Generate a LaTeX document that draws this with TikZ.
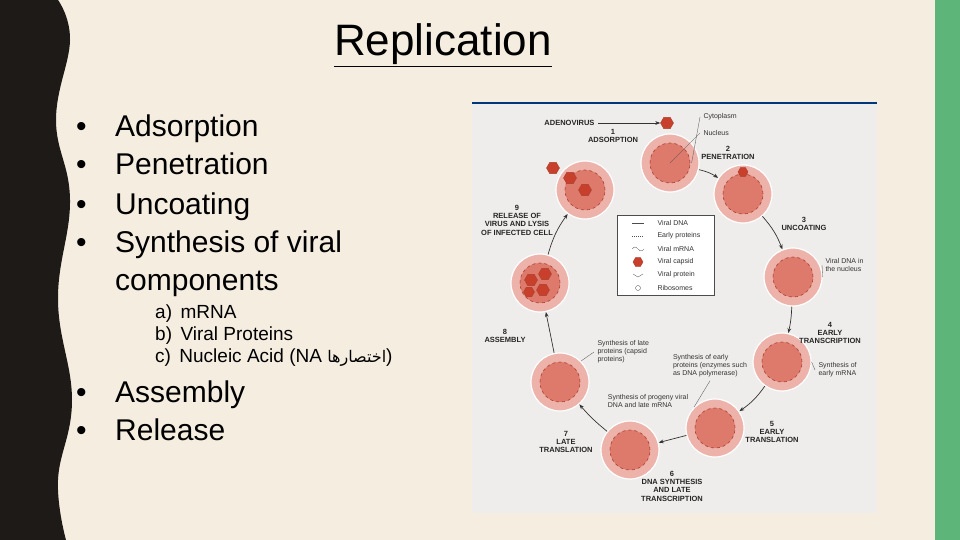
\documentclass[tikz,border=0pt]{standalone}
\usepackage{fontspec}
\setmainfont{Liberation Sans}
\newfontfamily\arabicfont[Script=Arabic]{DejaVu Sans}
\TeXXeTstate=1
\usetikzlibrary{shapes.geometric,arrows.meta}
\definecolor{cream}{HTML}{F5EEE0}
\definecolor{band}{HTML}{1E1A18}
\definecolor{grn}{HTML}{5DB57A}
\definecolor{panel}{HTML}{EFEDEB}
\definecolor{pinkc}{HTML}{EDB2AA}
\definecolor{nuc}{HTML}{DD7A6C}
\definecolor{nucd}{HTML}{A8402F}
\definecolor{vir}{HTML}{C8402C}
\tikzset{
  cell/.style={circle,minimum size=58pt,inner sep=0,fill=pinkc,draw=white,line width=1.2pt,
    path picture={\fill[nuc,draw=nucd,line width=0.6pt,dashed] (path picture bounding box.center) circle (20pt);}},
  virus/.style={regular polygon,regular polygon sides=6,minimum size=13pt,inner sep=0,fill=vir,draw=nucd,line width=0.4pt},
  lab/.style={font=\fontsize{7.5}{8.3}\selectfont\bfseries,align=center,text=black!85},
  sml/.style={font=\fontsize{7}{8}\selectfont,align=left,text=black!80},
  cyc/.style={-{Stealth[length=5pt]},line width=0.7pt,black!80},
  lead/.style={line width=0.3pt,black!70},
  bul/.style={font=\fontsize{30}{34}\selectfont},
}
\begin{document}
\begin{tikzpicture}[x=1pt,y=-1pt]
\useasboundingbox (0,0) rectangle (960,540);
\fill[cream] (0,0) rectangle (960,540);
\fill[band] (0,0) -- plot[smooth,tension=0.7] coordinates {(58,0) (70,40) (56,120) (70,200) (58,300) (72,400) (58,480) (66,540)} -- (0,540) -- cycle;
\fill[grn] (935,0) rectangle (960,540);
% title
\node (title) at (443,45) {\fontsize{44}{48}\selectfont\underline{Replication}};
% bullets
\begin{scope}[every node/.style={anchor=base west,inner sep=0}]
\foreach \y/\t [count=\i] in {137/Adsorption,175/Penetration,214/Uncoating,252/Synthesis of viral}{
  \node (b\i) at (115,\y) {\fontsize{30}{34}\selectfont \t};
  \node[bul] (d\i) at (76,\y) {\textbullet};}
\node (b5) at (115,290) {\fontsize{30}{34}\selectfont components};
\node (s1) at (155,318) {\fontsize{19}{22}\selectfont a)\ \,mRNA};
\node (s2) at (155,340) {\fontsize{19}{22}\selectfont b)\ \,Viral Proteins};
\node (s3) at (155,362) {\fontsize{19}{22}\selectfont c)\ \,Nucleic Acid (NA {\arabicfont\fontsize{16}{20}\selectfont\beginR اختصارها\endR})};
\node (b6) at (115,402) {\fontsize{30}{34}\selectfont Assembly};
\node[bul] (d6) at (76,402) {\textbullet};
\node (b7) at (115,440) {\fontsize{30}{34}\selectfont Release};
\node[bul] (d7) at (76,440) {\textbullet};
\end{scope}
% figure panel
\fill[panel] (472,103) rectangle (877,513);
\draw[blue!40!teal!70!black,line width=1.2pt] (472,103) -- (877,103);
% cells
\node[cell] (c1) at (670,163) {};
\node[cell] (c2) at (743,194) {};
\node[cell] (c3) at (793,277) {};
\node[cell] (c4) at (782,362) {};
\node[cell] (c5) at (715,428) {};
\node[cell] (c6) at (630,450) {};
\node[cell] (c7) at (560,382) {};
\node[cell] (c8) at (540,283) {};
\node[cell] (c9) at (585,190) {};
% viruses
\node[virus] (v0) at (667,123) {};
\node[virus,minimum size=10pt] (vp) at (743,172) {};
\node[virus] (v1) at (553,168) {};
\node[virus] (v2) at (570,178) {};
\node[virus] (v3) at (585,190) {};
\node[virus] (a1) at (531,280) {};
\node[virus] (a2) at (545,274) {};
\node[virus] (a3) at (543,290) {};
\node[virus,minimum size=11pt] (a4) at (529,292) {};
% cycle arrows
\draw[cyc] (c1) to[bend left=10] (c2);
\draw[cyc] (c2) to[bend left=10] (c3);
\draw[cyc] (c3) to[bend left=5] (c4);
\draw[cyc] (c4) to[bend left=10] (c5);
\draw[cyc] (c5) to (c6);
\draw[cyc] (c6) to[bend left=5] (c7);
\draw[cyc] (c7) to (c8);
\draw[cyc] (c8) to[bend left=10] (c9);
% labels
\node[lab,anchor=east] (adv) at (598,123) {ADENOVIRUS};
\draw[cyc] (adv) -- (v0);
\node[lab] (l1) at (613,136) {1\\ADSORPTION};
\node[sml,anchor=west] (cyt) at (700,117) {Cytoplasm};
\node[sml,anchor=west] (nucl) at (700,133) {Nucleus};
\draw[lead] (cyt.west) -- ([shift={(-8,0)}]c1.east);
\draw[lead] (nucl.west) -- (c1.center);
\node[lab] (l2) at (728,153) {2\\PENETRATION};
\node[lab] (l3) at (804,224) {3\\UNCOATING};
\node[sml,anchor=west] (vdn) at (822,265) {Viral DNA in\\the nucleus};
\draw[lead] (vdn.west) -- (c3.east);
\node[lab] (l4) at (830,333) {4\\EARLY\\TRANSCRIPTION};
\node[sml,anchor=west] (sem) at (815,370) {Synthesis of\\early mRNA};
\draw[lead] (sem.west) -- (c4.east);
\node[lab] (l5) at (772,432) {5\\EARLY\\TRANSLATION};
\node[lab] (l6) at (672,486) {6\\DNA SYNTHESIS\\AND LATE\\TRANSCRIPTION};
\node[lab] (l7) at (566,442) {7\\LATE\\TRANSLATION};
\node[lab] (l8) at (505,336) {8\\ASSEMBLY};
\node[lab] (l9) at (517,220) {9\\RELEASE OF\\VIRUS AND LYSIS\\OF INFECTED CELL};
\node[sml,anchor=west] (slp) at (594,352) {Synthesis of late\\proteins (capsid\\proteins)};
\draw[lead] (slp.west) -- (c7.north east);
\node[sml] (sep) at (710,366) {Synthesis of early\\proteins (enzymes such\\as DNA polymerase)};
\draw[lead] (sep.south) -- (c5.north west);
\node[sml] (spv) at (648,401) {Synthesis of progeny viral\\DNA and late mRNA};
% legend
\node[draw=black!70,fill=white,line width=0.4pt,minimum width=97pt,minimum height=80pt] (leg) at (666,255) {};
\node[sml,anchor=west] (k1) at (654,223) {Viral DNA};
\node[sml,anchor=west] (k2) at (654,236) {Early proteins};
\node[sml,anchor=west] (k3) at (654,249) {Viral mRNA};
\node[sml,anchor=west] (k4) at (654,262) {Viral capsid};
\node[sml,anchor=west] (k5) at (654,275) {Viral protein};
\node[sml,anchor=west] (k6) at (654,288) {Ribosomes};
\node[virus,minimum size=10pt] (kv) at (638,262) {};
\draw[lead] (632,223) -- (644,223);
\draw[lead,dash pattern=on 1pt off 1pt] (632,236) -- (644,236);
\draw[lead] (632,249) sin (635,247) cos (638,249) sin (641,251) cos (644,249);
\draw[lead] (633,274) -- (638,277) -- (643,274);
\draw[lead] (638,288) circle (2.5pt);
\end{tikzpicture}
\end{document}
